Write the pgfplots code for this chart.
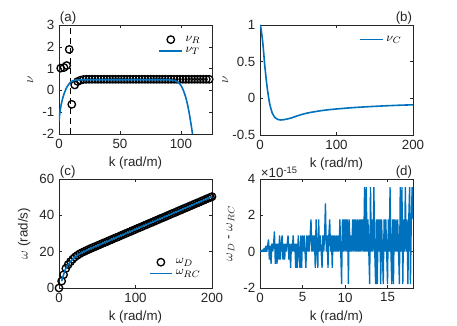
\documentclass[border=0pt]{standalone}
\usepackage{pgfplots}
\pgfplotsset{compat=1.18}
\usepackage{fontspec}
\setmainfont{Liberation Sans}
\definecolor{mblue}{RGB}{0,114,189}
\definecolor{axgray}{RGB}{38,38,38}
\pgfplotsset{
  mystyle/.style={
    scale only axis, width=114.75pt, height=81.75pt,
    anchor=south west,
    axis line style={axgray, line width=0.4pt},
    every tick/.style={axgray, line width=0.4pt},
    tick align=inside, major tick length=2.5pt,
    ticklabel style={font=\fontsize{10}{12}\selectfont, text=axgray},
    label style={font=\fontsize{10}{12}\selectfont, text=axgray},
    /pgf/number format/assume math mode=true,
    xlabel={k (rad/m)},
    legend style={draw=none, fill=none, font=\fontsize{9.5}{11}\selectfont, row sep=-1pt},
    legend cell align=left,
    clip mode=individual,
  },
}
\begin{document}
\begin{tikzpicture}
\path[use as bounding box] (0,0) rectangle (342.75pt,243.75pt);

% (a)
\begin{axis}[mystyle, at={(44.25pt,143.25pt)},
  xmin=0, xmax=125.5, ymin=-2, ymax=3,
  xtick={0,50,100}, ytick={-2,-1,0,1,2,3},
  ylabel={$\nu$},
  legend style={at={(0.97,0.95)}, anchor=north east}]
\addplot[black, line width=1.1pt, dash pattern=on 4.5pt off 3pt, forget plot] coordinates {(9.6,-2) (9.6,3)};
\addplot[only marks, mark=o, mark size=2.8pt, black, line width=1pt] coordinates {
(1.4,1.02) (4.1,1.05) (6.3,1.14) (8.4,1.88) (10.5,-0.64) (12.9,0.25) (15.3,0.41) (17.6,0.47)
(20.0,0.50) (22.4,0.51) (24.8,0.51) (27.2,0.51) (29.6,0.51) (32.0,0.51) (34.4,0.51) (36.8,0.51)
(39.2,0.51) (41.6,0.51) (44.0,0.51) (46.4,0.51) (48.8,0.51) (51.2,0.51) (53.6,0.51) (56.0,0.51)
(58.4,0.51) (60.8,0.51) (63.2,0.51) (65.6,0.51) (68.0,0.51) (70.4,0.51) (72.8,0.51) (75.2,0.51)
(77.6,0.51) (80.0,0.51) (82.4,0.51) (84.8,0.51) (87.2,0.51) (89.6,0.51) (92.0,0.51) (94.4,0.51)
(96.8,0.51) (99.2,0.51) (101.6,0.51) (104.0,0.51) (106.4,0.51) (108.8,0.51) (111.2,0.51) (113.6,0.51)
(116.0,0.51) (118.4,0.51) (120.8,0.51) (123.2,0.51)};
\addlegendentry{$\nu_R$}
\addplot[mblue, line width=1.2pt, smooth] coordinates {
(0,-1.4) (0.5,-1.12) (1,-0.9) (1.5,-0.74) (2,-0.6) (2.5,-0.48) (3,-0.37) (4,-0.18) (5,-0.03)
(6,0.1) (7,0.2) (8,0.28) (9,0.35) (10,0.4) (11,0.43) (12,0.45) (14,0.47) (16,0.48) (20,0.49)
(30,0.49) (60,0.49) (88,0.49) (91,0.48) (94,0.46) (96,0.43) (98,0.36) (99.5,0.27) (101,0.13)
(102,0.0) (103,-0.15) (104,-0.33) (105,-0.55) (106,-0.8) (107,-1.1) (108,-1.45) (109,-1.8) (110,-2.2)};
\addlegendentry{$\nu_T$}
\node[anchor=south west, inner sep=0.5pt, font=\fontsize{10}{12}\selectfont, text=axgray] at (rel axis cs:0,1) {(a)};
\end{axis}

% (b)
\begin{axis}[mystyle, at={(195pt,142.5pt)}, height=82.5pt,
  xmin=0, xmax=200, ymin=-0.5, ymax=1,
  xtick={0,100,200}, ytick={-0.5,0,0.5,1},
  ylabel={$\nu$}, ylabel style={yshift=-4pt},
  legend style={at={(0.97,0.95)}, anchor=north east}]
\addplot[draw=none, forget plot] coordinates {(0,0) (1,0)};
\addplot[mblue, line width=1.2pt, smooth] coordinates {
(0,1.0) (1,0.97) (2,0.9) (3,0.82) (4,0.72) (5,0.6) (6,0.47) (7,0.37) (8,0.27) (9,0.18) (10,0.1)
(11,0.03) (12,-0.04) (13,-0.09) (14,-0.13) (16,-0.2) (18,-0.24) (20,-0.265) (22,-0.28) (24,-0.29)
(27,-0.295) (30,-0.293) (34,-0.285) (40,-0.27) (50,-0.235) (60,-0.205) (70,-0.185) (80,-0.168)
(90,-0.155) (100,-0.145) (120,-0.128) (140,-0.115) (160,-0.104) (180,-0.095) (200,-0.088)};
\addlegendentry{$\nu_C$}
\node[anchor=south east, inner sep=0.5pt, font=\fontsize{10}{12}\selectfont, text=axgray] at (rel axis cs:1,1) {(b)};
\end{axis}

% (c)
\begin{axis}[mystyle, at={(44.25pt,27.75pt)},
  xmin=0, xmax=200, ymin=0, ymax=60,
  xtick={0,100,200}, ytick={0,20,40,60},
  ylabel={$\omega$ (rad/s)},
  legend style={at={(0.97,0.05)}, anchor=south east}]
\addplot[draw=none, forget plot] coordinates {(0,0) (1,0)};
\addplot[only marks, mark=o, mark size=2.8pt, black, line width=1pt] coordinates {
(0,0) (3.5,3.8) (6,7.3) (9,10.8) (12,12.9) (15,14.5) (18,15.9) (21,17.1) (24,18.0) (27,18.8)
(30,19.5) (33,20.1) (36,20.7) (39,21.3) (42,21.9) (45,22.4) (48,22.9) (51,23.5) (54,24.0) (57,24.6)
(60,25.1) (63,25.6) (66,26.2) (69,26.7) (72,27.3) (75,27.8) (78,28.3) (81,28.9) (84,29.4) (87,30.0)
(90,30.5) (93,31.0) (96,31.6) (99,32.1) (102,32.7) (105,33.2) (108,33.7) (111,34.3) (114,34.8)
(117,35.4) (120,35.9) (123,36.4) (126,37.0) (129,37.5) (132,38.1) (135,38.6) (138,39.1) (141,39.7)
(144,40.2) (147,40.8) (150,41.3) (153,41.8) (156,42.4) (159,42.9) (162,43.5) (165,44.0) (168,44.5)
(171,45.1) (174,45.6) (177,46.2) (180,46.7) (183,47.2) (186,47.8) (189,48.3) (192,48.9) (195,49.4)
(198,49.9) (200,50.3)};
\addlegendentry{$\omega_D$}
\addplot[mblue, line width=1.2pt, smooth] coordinates {
(3.5,3.8) (5,6.0) (6,7.3) (8,10.0) (10,11.6) (12,12.9) (15,14.5) (18,15.9) (21,17.1) (25,18.3)
(30,19.5) (35,20.5) (40,21.5) (45,22.4) (50,23.3) (100,32.3) (150,41.3) (200,50.3)};
\addlegendentry{$\omega_{RC}$}
\node[anchor=south west, inner sep=0.5pt, font=\fontsize{10}{12}\selectfont, text=axgray] at (rel axis cs:0,1) {(c)};
\end{axis}

% (d)
\begin{axis}[mystyle, at={(195pt,27.75pt)},
  xmin=0, xmax=18, ymin=-2, ymax=4,
  xtick={0,5,10,15}, ytick={-2,0,2,4},
  ylabel={$\omega_D$ - $\omega_{RC}$}]
\addplot[mblue, line width=1pt, line join=miter, miter limit=1] table {
0.0 0
0.1 0.06
0.2 0
0.3 0.11
0.4 0
0.5 0.22
0.6 0
0.7 0.33
0.8 0
0.9 0.33
1.0 0.67
1.1 -0.44
1.2 0.33
1.3 -0.67
1.4 0.44
1.5 0
1.6 0.44
1.7 1.11
1.8 -0.67
1.9 0.44
2.0 -0.67
2.1 0.44
2.2 -0.44
2.3 0.89
2.4 -0.44
2.5 0.44
2.6 0.89
2.7 -0.44
2.8 0.44
2.9 -0.44
3.0 0.44
3.1 0
3.2 0.44
3.3 0.89
3.4 -0.44
3.5 0.44
3.6 -0.89
3.7 0.44
3.8 0
3.9 0.89
4.0 0
4.1 0.44
4.2 -0.89
4.3 0.44
4.4 -0.89
4.5 0.89
4.6 0
4.7 -0.89
4.8 0.89
4.9 -0.89
5.0 0.89
5.1 0
5.2 0.89
5.3 0
5.4 -0.89
5.5 0.89
5.6 0
5.7 0.89
5.8 0
5.9 0.89
6.0 1.78
6.1 0
6.2 0.89
6.3 0
6.4 0.89
6.5 -0.89
6.6 1.78
6.7 0
6.8 -0.89
6.9 1.78
7.0 0
7.1 0.89
7.2 0
7.3 -0.89
7.4 0.89
7.5 0
7.6 0.89
7.7 2.66
7.8 0
7.9 0.89
8.0 -0.89
8.1 0.89
8.2 1.78
8.3 0
8.4 0.89
8.5 -0.89
8.6 0.89
8.7 0
8.8 0.89
8.9 0
9.0 0.89
9.1 0
9.2 0.89
9.3 0
9.4 1.78
9.5 0
9.6 -1.78
9.7 1.78
9.8 0
9.9 1.78
10.0 0
10.1 1.78
10.2 0
10.3 1.78
10.4 -1.78
10.5 1.78
10.6 0
10.7 0.89
10.8 0
10.9 1.78
11.0 0
11.1 1.78
11.2 0
11.3 1.78
11.4 0
11.5 1.78
11.6 0
11.7 1.78
11.8 0
11.9 1.78
12.0 0
12.1 1.78
12.2 0
12.3 3.55
12.4 0
12.5 3.55
12.6 0
12.7 1.78
12.8 0
12.9 -1.78
13.0 3.55
13.1 0
13.2 1.78
13.3 0
13.4 3.55
13.5 0
13.6 -1.78
13.7 1.78
13.8 -1.78
13.9 1.78
14.0 0
14.1 1.78
14.2 -1.78
14.3 1.78
14.4 0
14.5 -1.78
14.6 1.78
14.7 0
14.8 1.78
14.9 0
15.0 -1.78
15.1 1.78
15.2 0
15.3 3.55
15.4 0
15.5 -1.78
15.6 1.78
15.7 -1.78
15.8 1.78
15.9 0
16.0 1.78
16.1 0
16.2 1.78
16.3 0
16.4 -1.78
16.5 3.55
16.6 0
16.7 3.55
16.8 -1.78
16.9 1.78
17.0 0
17.1 3.55
17.2 0
17.3 1.78
17.4 -1.78
17.5 1.78
17.6 3.55
17.7 -1.78
17.8 1.78
17.9 3.55
18.0 1.78
};
\node[anchor=south west, inner sep=0.5pt, font=\fontsize{10}{12}\selectfont, text=axgray] at (rel axis cs:0,1) {×10\textsuperscript{-15}};
\node[anchor=south east, inner sep=0.5pt, font=\fontsize{10}{12}\selectfont, text=axgray] at (rel axis cs:1,1) {(d)};
\end{axis}
\end{tikzpicture}
\end{document}
